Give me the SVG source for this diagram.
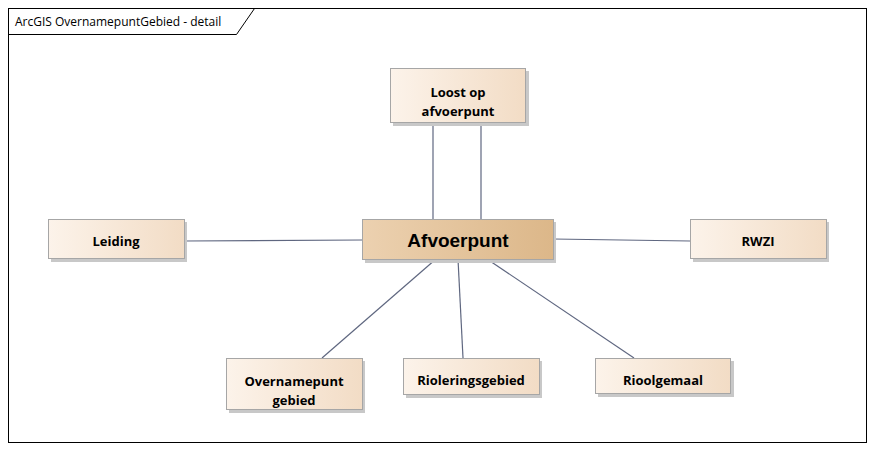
<svg xmlns="http://www.w3.org/2000/svg" width="876" height="452" viewBox="0 0 876 452">
<defs>
<linearGradient id="g" x1="0" y1="0" x2="1" y2="0">
<stop offset="0" stop-color="#fcf3ea"/>
<stop offset="1" stop-color="#f2dcc5"/>
</linearGradient>
<linearGradient id="gm" x1="0" y1="0" x2="1" y2="0">
<stop offset="0" stop-color="#ecd1b0"/>
<stop offset="1" stop-color="#dcb789"/>
</linearGradient>
</defs>
<style>
.sh{fill:#c8c8c8}
.box{fill:url(#g);stroke:#a6a6a6;stroke-width:1}
.main{fill:url(#gm);stroke:#a6a6a6;stroke-width:1}
.t{font-family:"Open Sans","Liberation Sans",sans-serif;font-weight:bold;font-size:13px;fill:#000;text-anchor:middle}
.tm{font-family:"Liberation Sans",Arial,sans-serif;font-weight:bold;font-size:19px;fill:#000;text-anchor:middle}
.c{stroke:#5f6780;stroke-width:1.2;fill:none}
</style>
<rect x="0" y="0" width="876" height="452" fill="#fff"/>
<g id="frame">
<rect x="8.5" y="8.5" width="858" height="434" fill="none" stroke="#000" stroke-width="1"/>
<path d="M8.5 34.5 H236.5 L254.5 8.5" fill="none" stroke="#000" stroke-width="1"/>
<text x="15" y="26" font-family="'Open Sans','Liberation Sans',sans-serif" font-size="12" fill="#000">ArcGIS OvernamepuntGebied - detail</text>
</g>
<g id="connectors">
<line class="c" x1="433" y1="122" x2="433" y2="219"/>
<line class="c" x1="481" y1="122" x2="481" y2="219"/>
<line class="c" x1="184" y1="241" x2="362" y2="240"/>
<line class="c" x1="553" y1="239" x2="690" y2="241"/>
<line class="c" x1="436" y1="259" x2="322" y2="358"/>
<line class="c" x1="458" y1="259" x2="463" y2="358"/>
<line class="c" x1="487" y1="259" x2="634" y2="358"/>
</g>
<g id="loost">
<rect class="sh" x="393" y="71" width="136" height="55"/>
<rect class="box" x="390.5" y="68.5" width="135" height="54"/>
<text class="t" x="458" y="97">Loost op</text>
<text class="t" x="458" y="116">afvoerpunt</text>
</g>
<g id="afvoerpunt">
<rect class="sh" x="365" y="222" width="191" height="41"/>
<rect class="main" x="362.5" y="219.5" width="191" height="40"/>
<text class="tm" x="458" y="247">Afvoerpunt</text>
</g>
<g id="leiding">
<rect class="sh" x="51" y="222" width="136" height="40"/>
<rect class="box" x="48.5" y="219.5" width="136" height="39"/>
<text class="t" x="116" y="246">Leiding</text>
</g>
<g id="rwzi">
<rect class="sh" x="693" y="222" width="136" height="40"/>
<rect class="box" x="690.5" y="219.5" width="136" height="39"/>
<text class="t" x="758" y="246">RWZI</text>
</g>
<g id="overnamepunt">
<rect class="sh" x="229" y="361" width="136" height="52"/>
<rect class="box" x="226.5" y="358.5" width="136" height="51"/>
<text class="t" x="294" y="386">Overnamepunt</text>
<text class="t" x="294" y="405">gebied</text>
</g>
<g id="rioleringsgebied">
<rect class="sh" x="406" y="361" width="136" height="37"/>
<rect class="box" x="403.5" y="358.5" width="136" height="36"/>
<text class="t" x="471" y="385">Rioleringsgebied</text>
</g>
<g id="rioolgemaal">
<rect class="sh" x="598" y="361" width="136" height="36"/>
<rect class="box" x="595.5" y="358.5" width="135" height="35"/>
<text class="t" x="663" y="385">Rioolgemaal</text>
</g>
</svg>
